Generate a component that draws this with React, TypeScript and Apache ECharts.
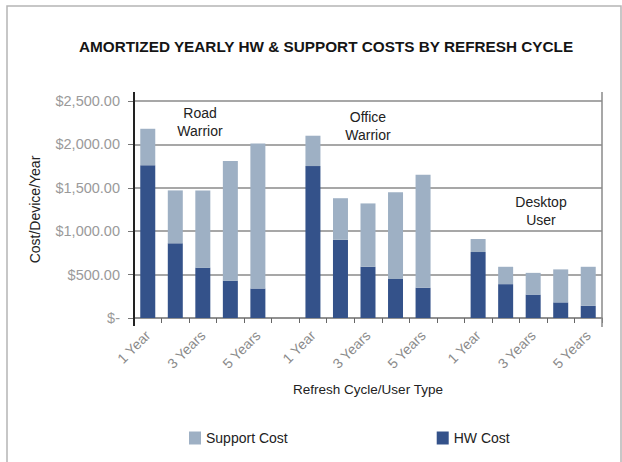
import React, { useEffect, useRef } from "react";
import * as echarts from "echarts";

const titleText = "AMORTIZED YEARLY HW & SUPPORT COSTS BY REFRESH CYCLE";
const groups = ["Road Warrior", "Office Warrior", "Desktop User"];
const cycles = ["1 Year", "2 Years", "3 Years", "4 Years", "5 Years"];
const hwCost = [
  [1760, 860, 580, 430, 340],
  [1750, 900, 590, 450, 350],
  [760, 390, 270, 180, 140],
];
const supportCost = [
  [420, 610, 890, 1380, 1670],
  [350, 480, 730, 1000, 1300],
  [150, 200, 250, 380, 450],
];
const yTicks = { min: 0, max: 2500, interval: 500 };
const seriesNames = ["Support Cost", "HW Cost"];
const colors = { support: "#9eb0c4", hw: "#34528a" };

const FONT = "Liberation Sans, Arial, sans-serif";

function buildCategories() {
  const cats: string[] = [];
  const hw: (number | null)[] = [];
  const sup: (number | null)[] = [];
  groups.forEach((g, gi) => {
    if (gi > 0) {
      cats.push(`gap${gi}|`);
      hw.push(null);
      sup.push(null);
    }
    cycles.forEach((c, ci) => {
      cats.push(`${g}|${c}`);
      hw.push(hwCost[gi][ci]);
      sup.push(supportCost[gi][ci]);
    });
  });
  return { cats, hw, sup };
}

export default function App() {
  const ref = useRef<HTMLDivElement>(null);
  useEffect(() => {
    if (!ref.current) return;
    const chart = echarts.init(ref.current, null, { renderer: "svg" });
    const { cats, hw, sup } = buildCategories();
    const gridLeft = 134;
    const gridRight = 20;
    const gridTop = 101;
    const gridBottom = 144;
    const W = 622;
    const H = 462;
    const fmt = (v: number) =>
      v === 0
        ? "$-"
        : "$" +
          v.toLocaleString("en-US", {
            minimumFractionDigits: 2,
            maximumFractionDigits: 2,
          });
    chart.setOption({
      animation: false,
      backgroundColor: "#ffffff",
      textStyle: { fontFamily: FONT },
      title: {
        text: titleText,
        left: 74,
        top: 34,
        textStyle: {
          fontSize: 15.3,
          fontWeight: "bold",
          color: "#151515",
          fontFamily: FONT,
        },
      },
      legend: {
        data: seriesNames,
        left: 184,
        top: 426,
        itemWidth: 12,
        itemHeight: 13,
        itemGap: 149,
        icon: "rect",
        textStyle: { fontSize: 14, color: "#222", fontFamily: FONT },
      },
      grid: {
        left: gridLeft,
        right: gridRight,
        top: gridTop,
        bottom: gridBottom,
        containLabel: false,
      },
      xAxis: {
        type: "category",
        data: cats,
        name: "Refresh Cycle/User Type",
        nameLocation: "middle",
        nameGap: 64,
        nameTextStyle: { fontSize: 13.5, color: "#222", fontFamily: FONT },
        axisLine: { show: true, lineStyle: { color: "#8a8a8a", width: 1.5 } },
        axisTick: {
          show: true,
          interval: 0,
          alignWithLabel: false,
          length: 5,
          lineStyle: { color: "#666", width: 1 },
        },
        axisLabel: {
          interval: 1,
          rotate: 45,
          margin: 15,
          fontSize: 14,
          color: "#8a8a8a",
          fontFamily: FONT,
          formatter: (v: string) => v.split("|")[1] ?? "",
        },
      },
      yAxis: {
        type: "value",
        min: yTicks.min,
        max: yTicks.max,
        interval: yTicks.interval,
        name: "Cost/Device/Year",
        nameLocation: "middle",
        nameGap: 92,
        nameRotate: 90,
        nameTextStyle: { fontSize: 14, color: "#222", fontFamily: FONT },
        axisLine: { show: false },
        axisTick: { show: true, length: 6, lineStyle: { color: "#777" } },
        splitLine: { show: true, lineStyle: { color: "#8a8a8a", width: 1.5 } },
        axisLabel: {
          margin: 14,
          fontSize: 14.5,
          color: "#9a9a9a",
          fontFamily: FONT,
          formatter: fmt,
        },
      },
      series: [
        {
          name: "HW Cost",
          type: "bar",
          stack: "cost",
          barWidth: 15,
          data: hw,
          itemStyle: { color: colors.hw },
        },
        {
          name: "Support Cost",
          type: "bar",
          stack: "cost",
          barWidth: 15,
          data: sup,
          itemStyle: { color: colors.support },
        },
      ],
      graphic: [
        {
          type: "rect",
          shape: { x: 7, y: 6, width: 614, height: 470 },
          style: { fill: "none", stroke: "#b5b5b5", lineWidth: 1.5 },
          silent: true,
        },
        {
          type: "line",
          shape: {
            x1: gridLeft,
            y1: gridTop - 9,
            x2: gridLeft,
            y2: H - gridBottom + 8,
          },
          style: { stroke: "#222", lineWidth: 2 },
          z: 10,
        },
        {
          type: "line",
          shape: {
            x1: W - gridRight,
            y1: gridTop - 9,
            x2: W - gridRight,
            y2: H - gridBottom + 9,
          },
          style: { stroke: "#8a8a8a", lineWidth: 1.5 },
          z: 10,
        },
        {
          type: "text",
          style: {
            text: "Road\nWarrior",
            x: 200,
            y: 122,
            align: "center",
            verticalAlign: "middle",
            fontSize: 14,
            lineHeight: 18,
            fill: "#222",
            fontFamily: FONT,
          },
        },
        {
          type: "text",
          style: {
            text: "Office\nWarrior",
            x: 368,
            y: 126,
            align: "center",
            verticalAlign: "middle",
            fontSize: 14,
            lineHeight: 18,
            fill: "#222",
            fontFamily: FONT,
          },
        },
        {
          type: "text",
          style: {
            text: "Desktop\nUser",
            x: 541,
            y: 211,
            align: "center",
            verticalAlign: "middle",
            fontSize: 14,
            lineHeight: 18,
            fill: "#222",
            fontFamily: FONT,
          },
        },
      ],
    });
    return () => chart.dispose();
  }, []);
  return (
    <div
      ref={ref}
      style={{ position: "absolute", left: 0, top: 0, width: 622, height: 462 }}
    />
  );
}
